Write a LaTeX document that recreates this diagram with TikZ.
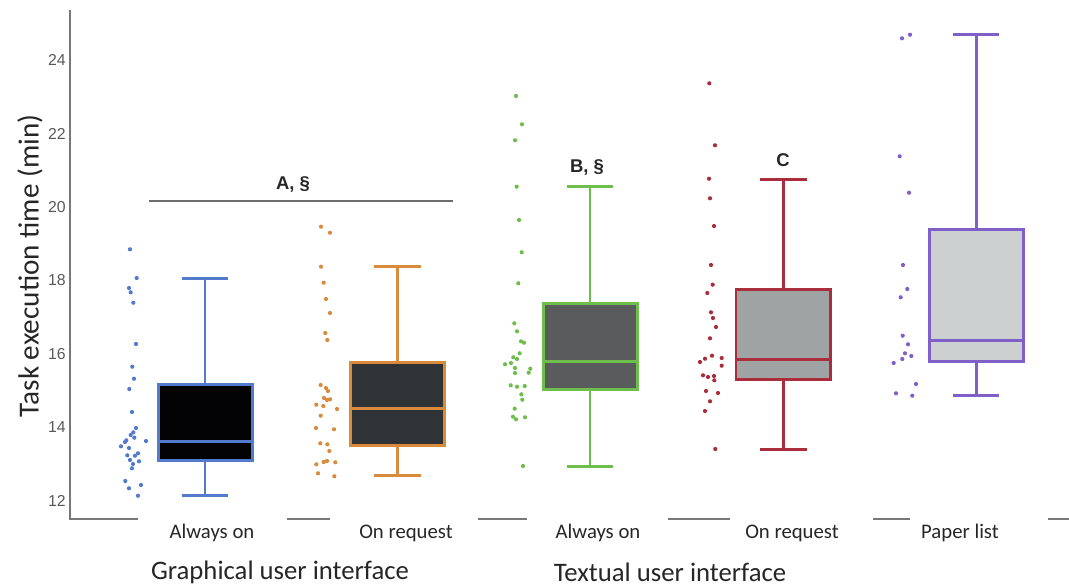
\documentclass[tikz,border=0pt]{standalone}
\usepackage{fontspec}
\setmainfont{Carlito}
\newfontfamily\arialf{Liberation Sans}
\definecolor{cblue}{RGB}{82,122,205}
\definecolor{corange}{RGB}{218,138,60}
\definecolor{cgreen}{RGB}{110,190,75}
\definecolor{cred}{RGB}{170,45,60}
\definecolor{cpurple}{RGB}{128,96,200}
\definecolor{axisgray}{RGB}{120,120,120}
\definecolor{fillA}{RGB}{3,3,6}
\definecolor{fillB}{RGB}{47,51,53}
\definecolor{fillC}{RGB}{89,91,93}
\definecolor{fillD}{RGB}{160,163,164}
\definecolor{fillE}{RGB}{205,208,209}
\tikzset{
  bxline/.style={line width=1.7pt},
  ticklab/.style={font=\arialf\fontsize{9}{10}\selectfont, text=black!65, anchor=east, inner sep=0pt},
  catlab/.style={font=\fontsize{11.8}{14}\selectfont, text=black!85, inner sep=0pt},
  grplab/.style={font=\fontsize{15.2}{18}\selectfont, text=black!85, inner sep=0pt},
  siglab/.style={font=\arialf\bfseries\fontsize{10.5}{12}\selectfont, text=black!85, inner sep=0pt},
  axl/.style={draw=axisgray, line width=1.4pt}
}
\newcommand{\dotr}{2.1}
\begin{document}
\begin{tikzpicture}[x=0.02cm,y=-0.02cm]
\useasboundingbox (0,0) rectangle (1069,586);
% axes
\draw[axl] (70,10) -- (70,519) -- (138,519);
\foreach \a/\b in {287/330, 478/527, 668/730, 873/910, 1048/1069}
  \draw[axl] (\a,519) -- (\b,519);
% ticks
\foreach \v in {12,14,...,24}
  \node[ticklab] (t\v) at (66,{501-(\v-12)*36.75}) {\v};
\node[font=\fontsize{16.6}{19}\selectfont, rotate=90, inner sep=0pt, text=black!85] (ytitle) at (30,266) {Task execution time (min)};
% Box 1 (blue)
\begin{scope}[cblue]
\draw[bxline] (205,278.3) -- (205,384) (205,460) -- (205,495);
\draw[bxline] (181.7,278.3) -- (228.3,278.3) (181.7,495) -- (228.3,495);
\draw[bxline, fill=fillA] (158.3,384) rectangle (252.3,460);
\draw[bxline] (158.3,441) -- (252.3,441);
\foreach \x/\y in {130/249.3,136.7/278,129/288,130.7/292.3,133.3/302.7,136/344,132.3/366.7,134/378.7,129.3/389,132/412,136/428,133.3/432.3,130.7/435,134.3/437.7,126.3/440.3,121/446.3,125/442,146/441,127.3/455.3,129/448,138/453.3,135/455.7,130/460,133/464,139/461.3,132/468.3,125.3/481,141/485,129/488.3,138/495.7}
  \fill (\x,\y) circle (\dotr);
\end{scope}
% Box 2 (orange)
\begin{scope}[corange]
\draw[bxline] (397.7,266.7) -- (397.7,362.3) (397.7,445.7) -- (397.7,475);
\draw[bxline] (374,266.7) -- (420.7,266.7) (374,475) -- (420.7,475);
\draw[bxline, fill=fillB] (350.7,362.3) rectangle (444.3,445.7);
\draw[bxline] (350.7,408.3) -- (444.3,408.3);
\foreach \x/\y in {321/226.7,330/232.7,321/266.7,323.7/282.7,326/299,330/313,325.3/333,327.3/340,320.7/385,326/388,328/391,324/398,327/400,330/399.3,316.3/404.7,323.3/406,337/409,320.7/415.7,316/428,334/429.3,320.3/443.3,327.3/444.3,329.3/451,327/461,316.3/464.3,323.7/462,335.3/462.3,318/473.3,334.3/476.3}
  \fill (\x,\y) circle (\dotr);
\end{scope}
% Box 3 (green)
\begin{scope}[cgreen]
\draw[bxline] (590,186.7) -- (590,303.3) (590,389.3) -- (590,466);
\draw[bxline] (567.3,186.7) -- (613.3,186.7) (567.3,466) -- (613.3,466);
\draw[bxline, fill=fillC] (543.3,303.3) rectangle (637.7,389.3);
\draw[bxline] (543.3,361.7) -- (637.7,361.7);
\foreach \x/\y in {516/96,522/124.3,515/140.3,516.7/186.7,519/220,521.7/252.3,518.3/283.3,514.3/323.3,517/331.3,521/341.3,524/342.7,519.7/353.3,513.3/357.3,517/359,505/364.3,511/363,515/368,530.3/368.7,528.7/372.7,515/373,510.7/385.3,517/386.7,524.7/386,521.3/394.3,522.3/399.7,514.7/408.7,513/416.7,516/419.3,525/417.3,523/466}
  \fill (\x,\y) circle (\dotr);
\end{scope}
% Box 4 (red)
\begin{scope}[cred]
\draw[bxline] (783.3,179) -- (783.3,289.3) (783.3,379) -- (783.3,449.3);
\draw[bxline] (760,179) -- (806.7,179) (760,449.3) -- (806.7,449.3);
\draw[bxline, fill=fillD] (736,289.3) rectangle (830.7,379);
\draw[bxline] (736,359) -- (830.7,359);
\foreach \x/\y in {709.3/83.3,715/145.3,709/178.7,710/198.3,714/226,711/265,712.7/284.7,707.3/293,711/312.3,713/318,716/327,710/338.3,705/358.7,700/362,712/355.7,721.7/358,721.7/365.7,703/375.3,708/377,714/376,714.3/380.3,706/391,718/393,710/401.3,705/411,715.3/449}
  \fill (\x,\y) circle (\dotr);
\end{scope}
% Box 5 (purple)
\begin{scope}[cpurple]
\draw[bxline] (976,34.7) -- (976,229.3) (976,361) -- (976,395.7);
\draw[bxline] (953.3,34.7) -- (999.3,34.7) (953.3,395.7) -- (999.3,395.7);
\draw[bxline, fill=fillE] (929,229.3) rectangle (1023.3,361);
\draw[bxline] (929,340) -- (1023.3,340);
\foreach \x/\y in {902/38.3,910/34.7,899.7/156.3,909/192.7,903/265,907.3/289,900.7/297.3,902.7/335.7,908/344.3,905/353.3,911.3/356,902.3/359,893.7/363,916/384,896/393.3,912.3/395.7}
  \fill (\x,\y) circle (\dotr);
\end{scope}
% significance
\coordinate (brL) at (149.3,201);
\coordinate (brR) at (453.3,201);
\draw[draw=axisgray!90!black, line width=1.4pt] (brL) -- (brR);
\node[siglab] (sA) at (293,184) {A, \S};
\node[siglab] (sB) at (587,167) {B, \S};
\node[siglab] (sC) at (783,160) {C};
% category labels
\node[catlab] (c1) at (212,533) {Always on};
\node[catlab] (c2) at (406,533) {On request};
\node[catlab] (c3) at (598,533) {Always on};
\node[catlab] (c4) at (792,533) {On request};
\node[catlab] (c5) at (960,533) {Paper list};
\node[grplab] (g1) at (280,572) {Graphical user interface};
\node[grplab] (g2) at (670,572) {Textual user interface};
\end{tikzpicture}
\end{document}
